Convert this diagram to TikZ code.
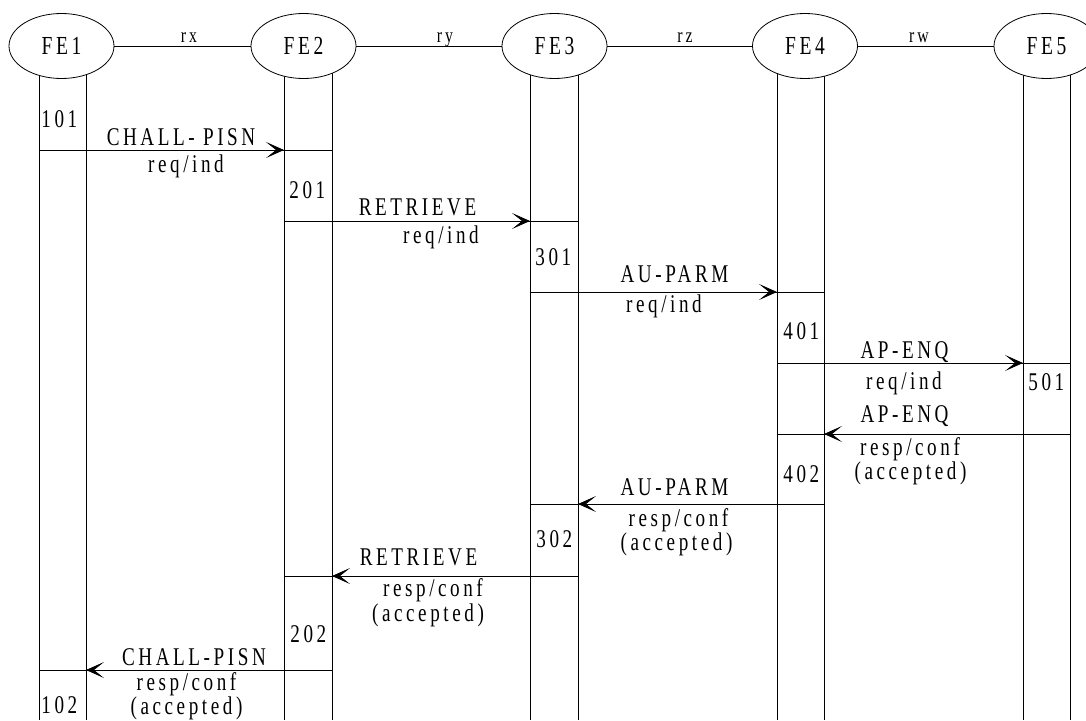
\documentclass[tikz,border=0pt]{standalone}
\usepackage{fontspec}
\setmainfont{Liberation Serif}[FakeStretch=0.75, LetterSpace=14]
\usetikzlibrary{arrows.meta,shapes.geometric}
\begin{document}
\begin{tikzpicture}[x=1pt,y=-1pt, line width=0.8pt,
  fe/.style={ellipse, draw, fill=white, minimum width=105pt, minimum height=65pt, inner sep=0pt, font=\fontsize{26}{30}\selectfont},
  lbl/.style={inner sep=0pt, anchor=base, font=\fontsize{25.5}{29}\selectfont},
  num/.style={lbl, anchor=base west},
  rlbl/.style={inner sep=0pt, anchor=base, font=\fontsize{21}{24}\selectfont},
  msg/.style={-{Stealth[length=18pt,width=16pt,inset=10pt]}}]
\clip (0,0) rectangle (1086,720);
% lifelines
\foreach \x in {39,86,284,332,530,578,777,824,1023,1070}
  \draw (\x,46) -- (\x,720);
% functional entities
\node[fe] (FE1) at (61.5,46) {FE1};
\node[fe] (FE2) at (303.5,46) {FE2};
\node[fe] (FE3) at (554.5,46) {FE3};
\node[fe] (FE4) at (805,46) {FE4};
\node[fe] (FE5) at (1046.5,46) {FE5};
\draw (FE1) -- (FE2);
\draw (FE2) -- (FE3);
\draw (FE3) -- (FE4);
\draw (FE4) -- (FE5);
\node[rlbl] (rx) at (189,42.5) {rx};
\node[rlbl] (ry) at (445,42.5) {ry};
\node[rlbl] (rz) at (685,42.5) {rz};
\node[rlbl] (rw) at (919,42.5) {rw};
% messages
\foreach \y/\a/\b/\s/\t in {150/39/332/86/284, 221/284/578/332/530, 292/530/824/578/777,
   363/777/1070/824/1023, 434/777/1070/1023/824, 504/530/824/777/578,
   576/284/578/530/332, 670/39/332/284/86}{
  \draw (\a,\y) -- (\b,\y);
  \draw[msg] (\s,\y) -- (\t,\y);
}
% message labels
\node[lbl] (l1a) at (181,145.5) {CHALL- PISN};
\node[lbl] (l1b) at (186,172) {req/ind};
\node[lbl] (l2a) at (417.5,215.5) {RETRIEVE};
\node[lbl] (l2b) at (441,243) {req/ind};
\node[lbl] (l3a) at (674.5,282) {AU-PARM};
\node[lbl] (l3b) at (664,312.5) {req/ind};
\node[lbl] (l4a) at (904.5,358.5) {AP-ENQ};
\node[lbl] (l4b) at (904,389) {req/ind};
\node[lbl] (l5a) at (904.5,422.5) {AP-ENQ};
\node[lbl] (l5b) at (910,455) {resp/conf};
\node[lbl] (l5c) at (910.5,479.5) {(accepted)};
\node[lbl] (l6a) at (674.5,495) {AU-PARM};
\node[lbl] (l6b) at (678.5,526) {resp/conf};
\node[lbl] (l6c) at (676.5,550.5) {(accepted)};
\node[lbl] (l7a) at (418.5,565.5) {RETRIEVE};
\node[lbl] (l7b) at (433,596.5) {resp/conf};
\node[lbl] (l7c) at (428,621.5) {(accepted)};
\node[lbl] (l8a) at (194,665) {CHALL-PISN};
\node[lbl] (l8b) at (186.5,690.5) {resp/conf};
\node[lbl] (l8c) at (186.5,714.5) {(accepted)};
% state numbers
\node[num] (n101) at (41,127.5) {101};
\node[num] (n201) at (289,198) {201};
\node[num] (n301) at (535,265) {301};
\node[num] (n401) at (783,339) {401};
\node[num] (n501) at (1028,390) {501};
\node[num] (n402) at (783,482) {402};
\node[num] (n302) at (536,547) {302};
\node[num] (n202) at (290,642) {202};
\node[num] (n102) at (41,713) {102};
\end{tikzpicture}
\end{document}
